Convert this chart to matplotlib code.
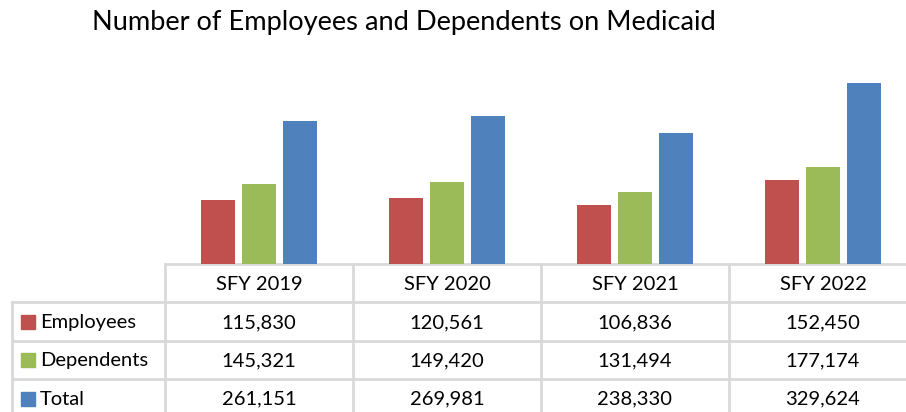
import numpy as np
import matplotlib.pyplot as plt
from matplotlib.patches import Rectangle

years = ['SFY 2019', 'SFY 2020', 'SFY 2021', 'SFY 2022']
series = ['Employees', 'Dependents', 'Total']
employees = [115830, 120561, 106836, 152450]
dependents = [145321, 149420, 131494, 177174]
total = [261151, 269981, 238330, 329624]
colors = ['#C0504D', '#9BBB59', '#4F81BD']

plt.rcParams['font.family'] = ['Lato', 'DejaVu Sans']

W, H = 906, 412
fig = plt.figure(figsize=(W / 100, H / 100), dpi=100)

# table/figure overlay in pixel coords
ov = fig.add_axes([0, 0, 1, 1])
ov.set_xlim(0, W)
ov.set_ylim(H, 0)
ov.axis('off')

# bars axes
x0, x1 = 165, 917
ytop, ybot = 72, 264
ax = fig.add_axes([x0 / W, 1 - ybot / H, (x1 - x0) / W, (ybot - ytop) / H])
ax.set_xlim(0, len(years))
ax.set_ylim(0, 350000)
ax.axis('off')

vals = [employees, dependents, total]
xs = np.arange(len(years)) + 0.5
bw = 0.176
step = 0.218
for i, v in enumerate(vals):
    ax.bar(xs + (i - 1) * step, v, width=bw, color=colors[i])

# title
ov.text(404, 22, 'Number of Employees and Dependents on Medicaid',
        fontsize=19.6, ha='center', va='center', color='#000000')

# data table
grid = '#D9D9D9'
colw = (x1 - x0) / len(years)
rowh = 38.3
lw = 2
fs = 14.5
ov.plot([x0, x1], [ybot, ybot], color=grid, lw=lw, solid_capstyle='butt')
for j in range(len(years) + 1):
    ov.plot([x0 + j * colw] * 2, [ybot, ybot + rowh * 4], color=grid, lw=lw)
for r in range(1, 5):
    ov.plot([12, x1], [ybot + r * rowh] * 2, color=grid, lw=lw)
ov.plot([12, 12], [ybot + rowh, ybot + rowh * 4], color=grid, lw=lw)

for j, yr in enumerate(years):
    ov.text(x0 + (j + 0.5) * colw, ybot + rowh / 2 + 1, yr, fontsize=fs,
            ha='center', va='center')

for i, name in enumerate(series):
    yc = ybot + (i + 1.5) * rowh + 1
    ov.add_patch(Rectangle((21, yc - 7.5), 14, 14, color=colors[i]))
    ov.text(40, yc, name, fontsize=fs, ha='left', va='center')
    for j in range(len(years)):
        ov.text(x0 + (j + 0.5) * colw, yc, f'{vals[i][j]:,}', fontsize=fs,
                ha='center', va='center')

fig.savefig('out.png', dpi=100)
